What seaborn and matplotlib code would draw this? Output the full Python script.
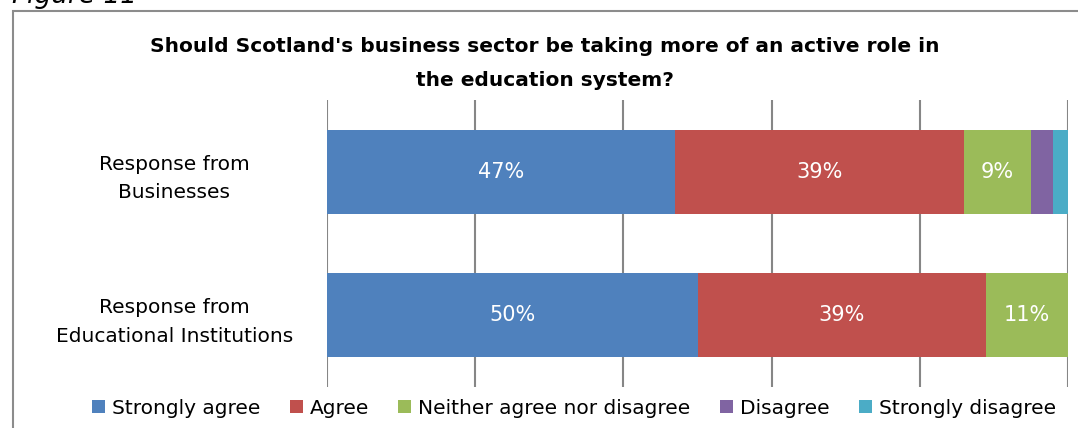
import numpy as np
import pandas as pd
import matplotlib
matplotlib.use("Agg")
import matplotlib.pyplot as plt
from matplotlib.patches import Patch, Rectangle
import seaborn as sns

# Survey responses (percent of respondents)
groups = ["Response from\nBusinesses", "Response from\nEducational Institutions"]
responses = ["Strongly agree", "Agree", "Neither agree nor disagree", "Disagree", "Strongly disagree"]
businesses = [47, 39, 9, 3, 2]
educational = [50, 39, 11, 0, 0]
colors = ["#4F81BD", "#C0504D", "#9BBB59", "#8064A2", "#4BACC6"]

sns.set_style("white")
plt.rcParams["font.family"] = ["DejaVu Sans"]
plt.rcParams["text.color"] = "black"
plt.rcParams["legend.labelcolor"] = "black"

values = np.array([businesses, educational], dtype=float)
cum = np.cumsum(values, axis=1)

fig = plt.figure(figsize=(10.78, 4.28), dpi=100)
W, H = 1078, 428
ax = fig.add_axes([327 / W, 1 - 387 / H, (1068 - 327) / W, (387 - 100) / H])

# Stacked bars: draw cumulative totals from the widest to the narrowest
for j in range(len(responses) - 1, -1, -1):
    df = pd.DataFrame({"group": groups, "total": cum[:, j]})
    sns.barplot(data=df, x="total", y="group", orient="h", color=colors[j],
                saturation=1, width=0.585, ax=ax, linewidth=0)

# Percentage labels inside segments
for i in range(len(groups)):
    for j in range(len(responses)):
        v = values[i, j]
        if v >= 5:
            ax.text(cum[i, j] - v / 2, i, f"{v:.0f}%", ha="center", va="center",
                    color="white", fontsize=15)

ax.set_xlim(0, 100)
ax.set_ylim(1.5, -0.5)
ax.set_xticks([0, 20, 40, 60, 80, 100])
ax.set_xticklabels([])
ax.tick_params(axis="x", length=0)
ax.set_xlabel("")
ax.set_ylabel("")
for lbl in ax.get_yticklabels():
    lbl.set_horizontalalignment("center")
    lbl.set_fontsize(14.5)
    lbl.set_color("black")
    lbl.set_linespacing(1.65)
ax.tick_params(axis="y", length=0, pad=110)
ax.grid(axis="x", color="#868686", linewidth=1.5)
ax.set_axisbelow(True)
for s in ax.spines.values():
    s.set_visible(False)

# Title
fig.text(545 / W, 1 - 47 / H, "Should Scotland's business sector be taking more of an active role in",
         ha="center", va="center", fontsize=14.5, fontweight="bold")
fig.text(545 / W, 1 - 80 / H, "the education system?",
         ha="center", va="center", fontsize=14.5, fontweight="bold")

# Legend
handles = [Patch(facecolor=c, edgecolor="none", label=r) for c, r in zip(colors, responses)]
fig.legend(handles=handles, loc="center", bbox_to_anchor=(574 / W, 1 - 408 / H), ncol=5,
           frameon=False, fontsize=14.5, handlelength=0.65, handleheight=0.65,
           handletextpad=0.35, columnspacing=1.45, borderaxespad=0)

# Chart frame and caption
fig.patches.append(Rectangle((13 / W, -0.1), 1.2, 1 - 11 / H + 0.1, transform=fig.transFigure,
                             fill=False, edgecolor="#8C8C8C", linewidth=1.5))
fig.text(12 / W, 1 - 3 / H, "Figure 11", ha="left", va="baseline", fontsize=19,
         style="italic")

fig.savefig("out.png", dpi=100)
